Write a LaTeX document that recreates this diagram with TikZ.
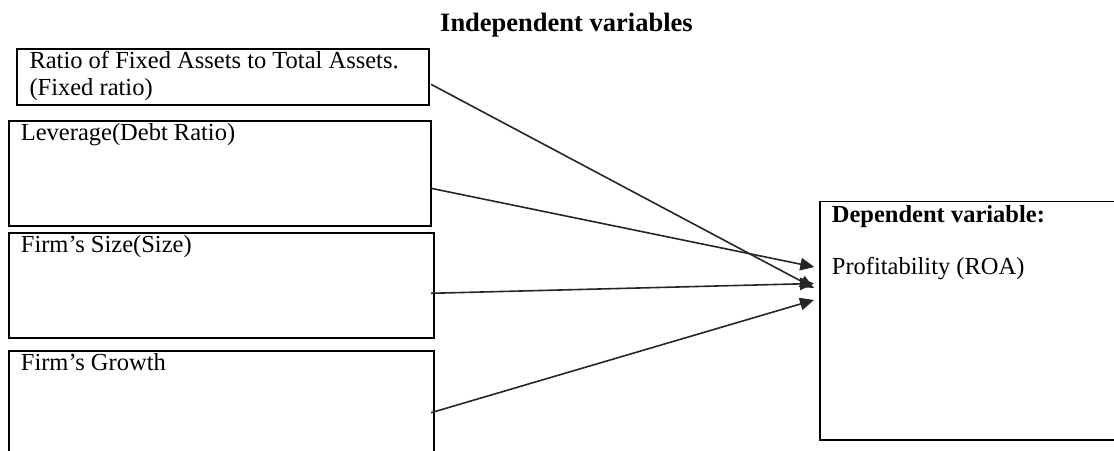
\documentclass[tikz,border=0pt]{standalone}
\usepackage{fontspec}
\setmainfont{Liberation Serif}
\usetikzlibrary{arrows.meta}

\tikzset{
  varbox/.style={draw=black, line width=1.5pt, rectangle, inner sep=0pt, anchor=north west},
  boxtext/.style={anchor=base west, inner sep=0pt, align=left,
                  font=\fontsize{24.5}{27}\selectfont},
  headtext/.style={anchor=base west, inner sep=0pt,
                   font=\fontsize{24.5}{27}\selectfont\bfseries},
  titletext/.style={anchor=base west, inner sep=0pt,
                    font=\fontsize{26.5}{30}\selectfont\bfseries},
  link/.style={draw=black!85, line width=1.6pt,
               -{Triangle[length=14pt, width=12.5pt]}},
}

\begin{document}
\begin{tikzpicture}[x=1pt, y=-1pt]
  \useasboundingbox (0,0) rectangle (1114,450);
  \begin{scope}
  \clip (0,0) rectangle (1114,450);

  % title over the predictors
  \node[titletext] (title) at (440,31.7) {Independent variables};

  % predictor boxes
  \node[varbox, minimum width=412pt, minimum height=56pt]  (fixed)  at (16,48) {};
  \node[varbox, minimum width=422pt, minimum height=105pt] (lev)    at (8,120) {};
  \node[varbox, minimum width=425pt, minimum height=105pt] (size)   at (8,232.3) {};
  \node[varbox, minimum width=425pt, minimum height=120pt] (growth) at (8,350) {};

  % two-line label: the base anchor sits on its last line
  \node[boxtext] (fixedtxt) at (29.3,95) {Ratio of Fixed Assets to Total Assets.\\(Fixed ratio)};
  \node[boxtext] (levtxt)    at (20.7,140) {Leverage(Debt Ratio)};
  \node[boxtext] (sizetxt)   at (20.7,252) {Firm’s Size(Size)};
  \node[boxtext] (growthtxt) at (20.7,370) {Firm’s Growth};

  % outcome box
  \node[varbox, minimum width=320pt, minimum height=238.5pt] (roa) at (819.3,200.7) {};
  \node[headtext] (roahead) at (831.7,222.7) {Dependent variable:};
  \node[boxtext]  (roatxt)  at (831.7,274) {Profitability (ROA)};

  % connector end points
  \coordinate (s1) at (431,84.3);
  \coordinate (s2) at (431,188.3);
  \coordinate (s3) at (431,293.3);
  \coordinate (s4) at (431,412.7);
  \coordinate (t1) at (814,288);
  \coordinate (t2) at (814.3,267);
  \coordinate (t3) at (814,283.5);
  \coordinate (t4) at (814,300);

  \draw[link] (s1) -- (t1);
  \draw[link] (s2) -- (t2);
  \draw[link] (s3) -- (t3);
  \draw[link] (s4) -- (t4);
  \end{scope}
\end{tikzpicture}
\end{document}
